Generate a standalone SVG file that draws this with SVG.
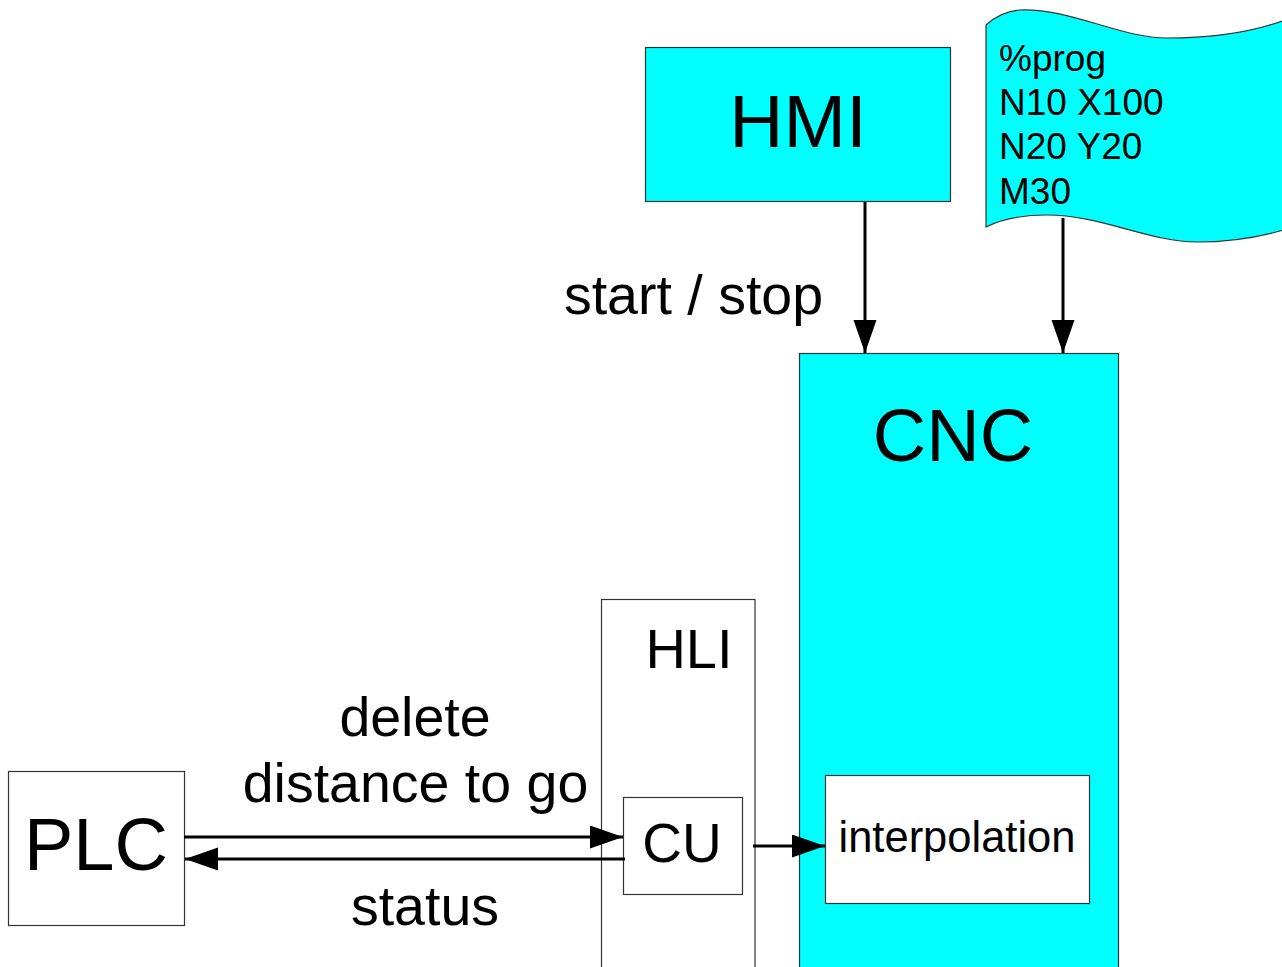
<svg xmlns="http://www.w3.org/2000/svg" width="1282" height="967" viewBox="0 0 1282 967">
<style>
text{font-family:"Liberation Sans",Arial,sans-serif;fill:#000}
.box{stroke:#333;stroke-width:1.2}
.cy{fill:#00ffff}
.wh{fill:#fff}
.ln{stroke:#000;stroke-width:3;fill:none}
.lbl{font-size:55.5px;text-anchor:middle}
</style>
<defs>
<marker id="ah" markerUnits="userSpaceOnUse" markerWidth="34" markerHeight="24" refX="33" refY="11.5" orient="auto">
<path d="M0,0 L33,11.5 L0,23 z" fill="#000"/>
</marker>
</defs>
<rect width="1282" height="967" fill="#fff"/>
<g id="cnc">
<rect class="box cy" x="799.5" y="353.5" width="319" height="620"/>
<text x="953" y="461" font-size="74" text-anchor="middle">CNC</text>
</g>
<g id="interpolation">
<rect class="box wh" x="825.5" y="775.5" width="264" height="128"/>
<text x="957" y="852" font-size="43.5" text-anchor="middle">interpolation</text>
</g>
<g id="hmi">
<rect class="box cy" x="645.5" y="47.5" width="305" height="154"/>
<text x="798" y="147" font-size="75" text-anchor="middle">HMI</text>
</g>
<g id="program">
<path class="box cy" d="M986,25 C996,16 1006,11 1020,10 C1070,8 1120,38 1167,38 C1215,38 1255,32 1290,18 L1290,228 C1258,238 1228,242 1197,242 C1150,242 1100,215 1047,215 C1020,215 1000,220 986,227 Z"/>
<text font-size="37"><tspan x="999" y="71">%prog</tspan><tspan x="999" y="115">N10 X100</tspan><tspan x="999" y="159">N20 Y20</tspan><tspan x="999" y="204">M30</tspan></text>
</g>
<g id="hli">
<rect class="box wh" x="601.5" y="599.5" width="153.5" height="380"/>
<text x="689" y="668" font-size="56" text-anchor="middle">HLI</text>
</g>
<g id="cu">
<rect class="box wh" x="623.5" y="797.5" width="119" height="97"/>
<text x="682" y="862" font-size="55" text-anchor="middle">CU</text>
</g>
<g id="plc">
<rect class="box wh" x="8.5" y="771.5" width="176" height="154"/>
<text x="96" y="870" font-size="74" text-anchor="middle">PLC</text>
</g>
<g id="connectors">
<line class="ln" x1="865" y1="202" x2="865" y2="353" marker-end="url(#ah)"/>
<line class="ln" x1="1063" y1="218" x2="1063" y2="353" marker-end="url(#ah)"/>
<line class="ln" x1="184" y1="837" x2="623" y2="837" marker-end="url(#ah)"/>
<line class="ln" x1="625" y1="859" x2="185" y2="859" marker-end="url(#ah)"/>
<line class="ln" x1="753" y1="846" x2="825" y2="846" marker-end="url(#ah)"/>
</g>
<g id="labels">
<text class="lbl" x="693.5" y="314">start / stop</text>
<text class="lbl" x="415" y="736">delete</text>
<text class="lbl" x="415.5" y="802">distance to go</text>
<text class="lbl" x="425" y="925">status</text>
</g>
</svg>
